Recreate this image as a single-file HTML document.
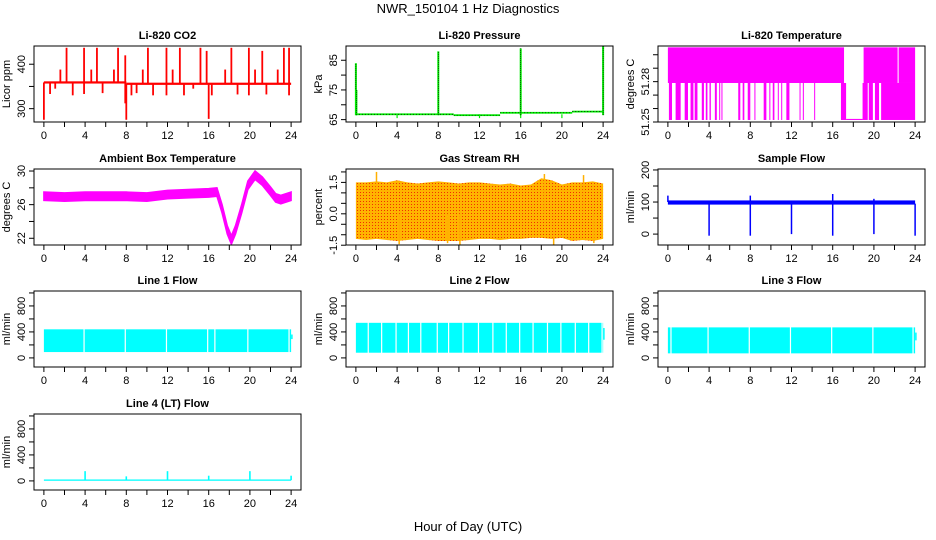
<!DOCTYPE html>
<html><head><meta charset="utf-8"><style>
body{margin:0;background:#fff}
svg{display:block;font-family:"Liberation Sans",sans-serif}
</style></head><body>
<svg id="c" width="936" height="540" viewBox="0 0 936 540">
<defs>
<pattern id="rhpat" width="3" height="3" patternUnits="userSpaceOnUse">
<rect width="3" height="3" fill="#ffb400"/><rect width="1" height="1" fill="#f03000"/>
</pattern>
</defs>
<text x="468" y="13" font-size="13" text-anchor="middle">NWR_150104  1 Hz Diagnostics</text>
<text x="468" y="531" font-size="13" text-anchor="middle">Hour of Day (UTC)</text>
</svg>
<script>
// ---- data ----
const hourTicks = [0,4,8,12,16,20,24];
const co2BaseT = [0, 8, 8, 24];
const co2BaseV = [359, 359, 356, 355];
const co2SpikeT = [2.2,3.9,5.15,7.2,7.9,10.1,11.9,13.2,15.2,15.8,18.2,19.9,21.2,23.3,23.8, 1.6,4.6,6.8,9.6,12.5,17.6,20.5,22.7, 0.6,1.1,2.8,3.9,5.7,8.5,9.0,10.6,11.9,13.6,14.5,16.3,18.8,19.9,21.6,23.8, 0.0,8.0,16.0,7.9];
const co2SpikeV = [437,437,437,437,420,437,437,437,437,430,437,437,430,437,437, 388,388,388,388,388,388,388,388, 333,345,330,333,335,330,335,330,330,330,345,330,332,330,332,330, 275,275,277,312];
const presSegT0 = [0, 9.5, 14, 21];
const presSegT1 = [9.5, 14, 21, 24];
const presSegV = [66.8, 66.5, 67.3, 67.7];
const presSpikeT = [0, 0.05, 8, 16, 24];
const presSpikeV = [84, 75, 88, 89, 90];
const tempHi = 51.3055, tempMid = 51.279, tempLo = 51.2515;
const tempTopSegStart = [0, 19, 22.4];
const tempTopSegEnd = [17.1, 22.3, 24];
const tempDropStart = [0.1,0.75,1.63,2.2,2.6,3.29,3.68,4.04,4.56,4.98,5.2,6.83,7.26,7.75,8.4,9.3,9.85,10.18,10.67,11.0,11.5,12.78,13.1,14.2,16.8,18.9,19.5,20.1,20.7];
const tempDropEnd =   [0.4,1.24,1.95,2.48,2.87,3.5,3.84,4.17,4.75,5.03,5.25,7.03,7.42,8.0,8.45,9.56,9.9,10.34,10.72,11.05,11.8,12.83,13.2,14.25,17.3,19.4,19.9,20.5,24];
const ambT =   [0,2,4,6,8,10,12,14,16,16.8,17.3,17.8,18.2,18.6,19.2,19.8,20.5,21.2,22,22.5,23,24];
const ambMid = [27.0,26.9,27.0,27.0,27.0,26.9,27.2,27.3,27.4,27.5,25.5,23.0,21.8,23.0,25.5,28.3,29.5,28.8,27.6,26.8,26.6,27.0];
const ambHalf = 0.5;
const rhHi = [1.5,1.5,1.55,1.5,1.6,1.5,1.45,1.5,1.55,1.5,1.45,1.5,1.5,1.45,1.4,1.45,1.35,1.4,1.7,1.6,1.4,1.5,1.5,1.55,1.45];
const rhLo = [-1.2,-1.25,-1.2,-1.25,-1.3,-1.25,-1.2,-1.25,-1.3,-1.3,-1.3,-1.25,-1.2,-1.2,-1.25,-1.2,-1.2,-1.15,-1.15,-1.2,-1.15,-1.3,-1.25,-1.3,-1.2];
const rhSpikeT = [2.0,4.2,8.9,10.1,18.3,19.2,22.1,23.1];
const rhSpikeV = [2.0,-1.45,-1.4,-1.5,1.9,-1.5,1.85,-1.4];
const sampBaseLo = 92, sampBaseHi = 105;
const sampDropT = [4,8,12,16,20,24];
const sampDropV = [-5,-5,0,-5,0,-5];
const sampUpT = [0,8,16,20];
const sampUpV = [120,120,125,110];
const l1Lo = 90, l1Hi = 440;
const l1GapT = [3.9,7.9,11.9,15.9,16.6,19.8,23.8];
const l2Lo = 80, l2Hi = 540;
const l2GapT = [1.2,2.5,3.9,5.1,6.3,7.9,9.0,10.4,11.9,13.3,14.6,15.9,17.2,18.6,19.9,21.3,22.6,23.9];
const l3Lo = 70, l3Hi = 470;
const l3GapT = [0.3,3.9,7.9,11.9,15.9,19.9,23.8];
const l4Base = 12;
const l4SpikeT = [4,8,12,16,20,24];
const l4SpikeV = [150,70,150,80,150,80];

const svg = document.getElementById('c');
const NS = 'http://www.w3.org/2000/svg';
function mk(tag, attrs, parent){const e=document.createElementNS(NS,tag);for(const k in attrs)e.setAttribute(k,attrs[k]);(parent||svg).appendChild(e);return e;}

const colL=[34,346,658], rowT=[46,169,291,414], W=267, H=76;
function panel(col,row,title,ylab,ymin,ymax,ticks,labels,name){
  const L=colL[col],T=rowT[row];
  const g=mk('g',{});
  
  
  const x=h=>L+(h+0.96)/25.92*W;
  const y=v=>T+H-(v-ymin)/(ymax-ymin)*H;
  const clip='clip'+name;
  const cp=mk('clipPath',{id:clip},g);mk('rect',{x:L,y:T,width:W,height:H},cp);
  const plot=mk('g',{'clip-path':'url(#'+clip+')'},g);
  
  
  const xa=mk('g',{},g);
  
  
  mk('line',{x1:x(0),x2:x(24),y1:T+H,y2:T+H,stroke:'#000'},xa);
  for(let h=0;h<=24;h+=2){mk('line',{x1:x(h),x2:x(h),y1:T+H,y2:T+H+5,stroke:'#000'},xa);}
  hourTicks.forEach(h=>{const t=mk('text',{x:x(h),y:T+H+17,'font-size':11,'text-anchor':'middle'},xa);t.textContent=h;});
  const ya=mk('g',{},g);
  
  
  mk('line',{x1:L,x2:L,y1:y(ticks[0]),y2:y(ticks[ticks.length-1]),stroke:'#000'},ya);
  ticks.forEach(v=>mk('line',{x1:L-5,x2:L,y1:y(v),y2:y(v),stroke:'#000'},ya));
  labels.forEach(v=>{const yy=y(v[0]);const t=mk('text',{x:L-9,y:yy,'font-size':11,'text-anchor':'middle',transform:`rotate(-90 ${L-9} ${yy})`},ya);t.textContent=v[1];});
  const yl=mk('text',{x:L-24,y:T+H/2,'font-size':11,'text-anchor':'middle',transform:`rotate(-90 ${L-24} ${T+H/2})`},g);yl.textContent=ylab;
  
  
  const tt=mk('text',{x:L+W/2,y:T-7,'font-size':11,'font-weight':'bold','text-anchor':'middle'},g);tt.textContent=title;
  
  
  mk('rect',{x:L,y:T,width:W,height:H,fill:'none',stroke:'#000'},g);
  return {x,y,plot};
}
function vline(p,h,v1,v2,col,w){mk('line',{x1:p.x(h),x2:p.x(h),y1:p.y(v1),y2:p.y(v2),stroke:col,'stroke-width':w||1.5},p.plot);}
function rect(p,h1,h2,v1,v2,col){const a=p.x(h1),b=p.x(h2),c=p.y(v2),d=p.y(v1);mk('rect',{x:a,y:c,width:Math.max(b-a,1),height:Math.max(d-c,1),fill:col},p.plot);}

// CO2
{const p=panel(0,0,'Li-820 CO2','Licor ppm',270,441,[300,350,400],[[300,'300'],[400,'400']],'co2');
 co2SpikeT.forEach((t,i)=>{const b=t<8?co2BaseV[0]:co2BaseV[2];vline(p,t,b,co2SpikeV[i],'#f00',1.8);});
 for(let i=0;i<co2BaseT.length;i+=2){rect(p,co2BaseT[i],co2BaseT[i+1],co2BaseV[i]-2.5,co2BaseV[i]+2.5,'#f00');}
}
// Pressure
{const p=panel(1,0,'Li-820 Pressure','kPa',64.2,89.8,[65,70,75,80,85],[[65,'65'],[75,'75'],[85,'85']],'pressure');
 presSegV.forEach((v,i)=>{rect(p,presSegT0[i],presSegT1[i],v-0.3,v+0.3,'#00ee00');mk('line',{x1:p.x(presSegT0[i]),x2:p.x(presSegT1[i]),y1:p.y(v),y2:p.y(v),stroke:'#000','stroke-dasharray':'1 2','stroke-width':0.7},p.plot);});
 [4,12,16,20].forEach(t=>vline(p,t,65.5,66.8,'#00ee00',1.2));
 presSpikeT.forEach((t,i)=>{vline(p,t,66.5,presSpikeV[i],'#00ee00',2);mk('line',{x1:p.x(t),x2:p.x(t),y1:p.y(66.5),y2:p.y(presSpikeV[i]),stroke:'#000','stroke-width':0.6,'stroke-dasharray':'1 1'},p.plot);});
}
// Temperature
{const p=panel(2,0,'Li-820 Temperature','degrees C',51.25,51.3065,[51.25,51.26,51.27,51.28,51.29,51.30],[[51.25,'51.25'],[51.28,'51.28']],'li820-temp');
 tempTopSegStart.forEach((s,i)=>rect(p,s,tempTopSegEnd[i],tempMid,tempHi,'#f0f'));
 tempDropStart.forEach((s,i)=>rect(p,s,tempDropEnd[i],tempLo,tempMid,'#f0f'));
 rect(p,17.3,18.9,tempLo,tempLo+0.0008,'#f0f');
}
// Ambient
{const p=panel(0,1,'Ambient Box Temperature','degrees C',21.2,30.24,[22,24,26,28,30],[[22,'22'],[26,'26'],[30,'30']],'ambient-temp');
 let d='';ambT.forEach((t,i)=>{d+=(i?'L':'M')+p.x(t)+','+p.y(ambMid[i]+ambHalf);});
 for(let i=ambT.length-1;i>=0;i--){d+='L'+p.x(ambT[i])+','+p.y(ambMid[i]-ambHalf);}
 mk('path',{d:d+'Z',fill:'#f0f',stroke:'#f0f','stroke-width':1.5},p.plot);
}
// RH
{const p=panel(1,1,'Gas Stream RH','percent',-1.49,2.14,[-1.5,-1,-0.5,0,0.5,1,1.5,2],[[-1.5,'-1.5'],[0,'0.0'],[1.5,'1.5']],'rh');
 let d='';rhHi.forEach((v,i)=>{d+=(i?'L':'M')+p.x(i)+','+p.y(v);});
 for(let i=rhLo.length-1;i>=0;i--){d+='L'+p.x(i)+','+p.y(rhLo[i]);}
 mk('path',{d:d+'Z',fill:'url(#rhpat)'},p.plot);
 rhSpikeT.forEach((t,i)=>vline(p,t,0,rhSpikeV[i],'#ffb000',1.5));
}
// Sample flow
{const p=panel(2,1,'Sample Flow','ml/min',-34,203,[0,50,100,150,200],[[0,'0'],[100,'100'],[200,'200']],'sample-flow');
 rect(p,0,24,sampBaseLo,sampBaseHi,'#00f');
 sampDropT.forEach((t,i)=>vline(p,t,95,sampDropV[i],'#00f',1.5));
 sampUpT.forEach((t,i)=>vline(p,t,100,sampUpV[i],'#00f',1.5));
}
// Line flows
const lfTicks=[0,200,400,600,800,1000], lfLabels=[[0,'0'],[400,'400'],[800,'800']];
function linePanel(col,row,title,name,lo,hi,gaps){
 const p=panel(col,row,title,'ml/min',-140,1030,lfTicks,lfLabels,name);
 rect(p,0,24,lo,hi,'#0ff');
 gaps.forEach(t=>vline(p,t,lo-5,hi+5,'#fff',1.2));
 rect(p,24,24.15,lo+200,hi-80,'#0ff');
 return p;
}
linePanel(0,2,'Line 1 Flow','line1-flow',l1Lo,l1Hi,l1GapT);
linePanel(1,2,'Line 2 Flow','line2-flow',l2Lo,l2Hi,l2GapT);
linePanel(2,2,'Line 3 Flow','line3-flow',l3Lo,l3Hi,l3GapT);
{const p=panel(0,3,'Line 4 (LT) Flow','ml/min',-140,1030,lfTicks,lfLabels,'line4-flow');
 rect(p,0,24,l4Base-10,l4Base+10,'#0ff');
 l4SpikeT.forEach((t,i)=>vline(p,t,l4Base,l4SpikeV[i],'#0ff',1.6));
}
</script>
</body></html>
